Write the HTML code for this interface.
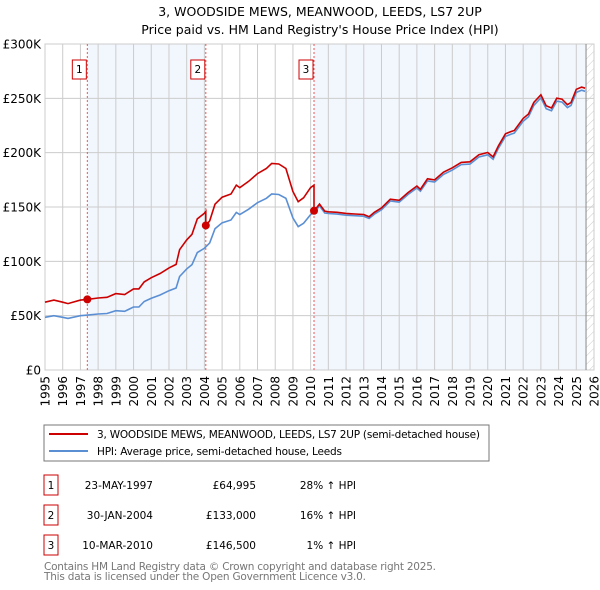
<!DOCTYPE html>
<html><head><meta charset="utf-8"><style>
body{margin:0;background:#fff;}
svg{display:block;font-family:"DejaVu Sans","Liberation Sans",sans-serif;}
</style></head><body>
<svg id="c" width="600" height="590">
<text x="320" y="16" text-anchor="middle" font-size="12.5">3, WOODSIDE MEWS, MEANWOOD, LEEDS, LS7 2UP</text>
<text x="320" y="34" text-anchor="middle" font-size="12.5">Price paid vs. HM Land Registry's House Price Index (HPI)</text>
<defs><pattern id="hatch" width="6" height="6" patternUnits="userSpaceOnUse" patternTransform="rotate(45)"><line x1="0" y1="0" x2="0" y2="6" stroke="#ccc" stroke-width="1"/></pattern></defs>
<g id="plot"></g>
<rect x="44" y="425" width="445" height="36" fill="#fff" stroke="#777"/>
<line x1="49" y1="434" x2="88" y2="434" stroke="#cc0000" stroke-width="2"/>
<text x="97" y="438" font-size="10.5" textLength="383">3, WOODSIDE MEWS, MEANWOOD, LEEDS, LS7 2UP (semi-detached house)</text>
<line x1="49" y1="451" x2="88" y2="451" stroke="#5b8fd4" stroke-width="2"/>
<text x="97" y="455" font-size="10.5" textLength="245">HPI: Average price, semi-detached house, Leeds</text>
<g id="tbl" font-size="10.5"></g>
<text x="44" y="570" font-size="10.5" fill="#777" textLength="392">Contains HM Land Registry data © Crown copyright and database right 2025.</text>
<text x="44" y="580" font-size="10.5" fill="#777" textLength="322">This data is licensed under the Open Government Licence v3.0.</text>
</svg>
<script>
const hpiYears=[1995,1995.5,1996,1996.3,1997,1997.4,1998,1998.5,1999,1999.5,2000,2000.3,2000.6,2001,2001.5,2002,2002.4,2002.6,2003,2003.3,2003.6,2004,2004.3,2004.6,2005,2005.5,2005.8,2006,2006.5,2007,2007.5,2007.8,2008.2,2008.6,2009,2009.3,2009.6,2010,2010.2,2010.5,2010.8,2011,2011.5,2012,2012.5,2013,2013.3,2013.6,2014,2014.5,2015,2015.5,2016,2016.2,2016.6,2017,2017.5,2018,2018.5,2019,2019.5,2020,2020.3,2020.6,2021,2021.3,2021.5,2022,2022.3,2022.6,2023,2023.3,2023.6,2023.9,2024.2,2024.5,2024.7,2025,2025.3,2025.5];
const hpiValues=[48.5,50,48.5,47.5,50,50.5,51.5,52,54.6,54,58,58,63,66,69,73,75.5,86,93,97,108,112,117,130,135.5,138,145,143,148,154,158,162,161.5,158,140,132,135,143,145,151,144.5,144,143.5,142.5,142,141.5,139.5,143.5,147.5,155.5,154.5,161.5,167.5,164.5,174,173,180,184,189,189.5,196,198,194,204,215,217,218,229,233,243.5,250.5,240.5,238.5,247.5,246.5,241.5,243.5,255.5,257.5,256.5];
const saleYears=[1997.39,2004.08,2010.19];
const salePrices=[64.995,133,146.5];
const saleDates=["23-MAY-1997","30-JAN-2004","10-MAR-2010"];
const salePriceLabels=["£64,995","£133,000","£146,500"];
const saleHpiLabels=["28% ↑ HPI","16% ↑ HPI","1% ↑ HPI"];
const yTicks=[0,50,100,150,200,250,300];
const yTickLabels=["£0","£50K","£100K","£150K","£200K","£250K","£300K"];
const xStart=1995,xEnd=2026;
const NS="http://www.w3.org/2000/svg";
const L=45,R=594,T=44,B=370;
const X=y=>L+(y-xStart)*(R-L)/(xEnd-xStart);
const Y=v=>B-v*(B-T)/300;
const g=document.getElementById('plot');
function mk(tag,attrs,parent){const e=document.createElementNS(NS,tag);for(const k in attrs)e.setAttribute(k,attrs[k]);(parent||g).appendChild(e);return e;}
function hpiAt(t){for(let i=1;i<hpiYears.length;i++){if(t<=hpiYears[i]){const f=(t-hpiYears[i-1])/(hpiYears[i]-hpiYears[i-1]);return hpiValues[i-1]+f*(hpiValues[i]-hpiValues[i-1]);}}return hpiValues[hpiValues.length-1];}
const bg=mk('rect',{x:L,y:T,width:R-L,height:B-T,fill:'#fff'});


const s1=mk('rect',{x:X(saleYears[0]),y:T,width:X(saleYears[1])-X(saleYears[0]),height:B-T,fill:'#f2f6fd'});


const s2=mk('rect',{x:X(saleYears[2]),y:T,width:X(2025.55)-X(saleYears[2]),height:B-T,fill:'#f2f6fd'});


const ht=mk('rect',{x:X(2025.55),y:T,width:R-X(2025.55),height:B-T,fill:'url(#hatch)'});


for(let yr=xStart;yr<=xEnd;yr++){
 const l=mk('line',{x1:X(yr),x2:X(yr),y1:T,y2:B,stroke:'#ccc','stroke-width':1});
 
 
 const t=mk('text',{x:0,y:0,'font-size':12,'text-anchor':'end',transform:`translate(${X(yr)+4.5},${B+6}) rotate(-90)`});
 t.textContent=yr;
 
 
}
yTicks.forEach((v,i)=>{
 const l=mk('line',{x1:L,x2:R,y1:Y(v),y2:Y(v),stroke:'#ccc','stroke-width':1});
 
 
 const t=mk('text',{x:L-4,y:Y(v)+4.5,'font-size':12,'text-anchor':'end'});
 t.textContent=yTickLabels[i];
 
 
});
const ax=mk('rect',{x:L,y:T,width:R-L,height:B-T,fill:'none',stroke:'#ccc'});


const endL=mk('line',{x1:X(2025.55),x2:X(2025.55),y1:T,y2:B,stroke:'#888'});


saleYears.forEach((sy,i)=>{
 const l=mk('line',{x1:X(sy),x2:X(sy),y1:T,y2:B,stroke:'#e55','stroke-width':1,'stroke-dasharray':'2,2'});
 
 
 const b=mk('rect',{x:X(sy)-15,y:60,width:14,height:19,fill:'#fff',stroke:'#c00'});
 
 
 const t=mk('text',{x:X(sy)-8,y:73,'font-size':10.5,'text-anchor':'middle'});
 t.textContent=i+1;
 
 
});
const hp=mk('path',{d:hpiYears.map((y,i)=>(i?'L':'M')+X(y).toFixed(1)+','+Y(hpiValues[i]).toFixed(1)).join(''),fill:'none',stroke:'#5b8fd4','stroke-width':1.6});


// property line: HPI scaled by the ratio at each sale
function ratio(k){return salePrices[k]/hpiAt(saleYears[k]);}
let d='';
hpiYears.forEach((y,i)=>{
 let k=0;for(let j=0;j<saleYears.length;j++)if(y>=saleYears[j])k=j;
 if(i>0){const prev=hpiYears[i-1];for(let j=0;j<saleYears.length;j++){if(saleYears[j]>prev&&saleYears[j]<=y){const kk=Math.max(0,j-1);d+='L'+X(saleYears[j]).toFixed(1)+','+Y(hpiAt(saleYears[j])*ratio(kk)).toFixed(1);d+='L'+X(saleYears[j]).toFixed(1)+','+Y(salePrices[j]).toFixed(1);}}}
 d+=(i?'L':'M')+X(y).toFixed(1)+','+Y(hpiValues[i]*ratio(k)).toFixed(1);
});
const pp=mk('path',{d:d,fill:'none',stroke:'#cc0000','stroke-width':1.6});


saleYears.forEach((sy,i)=>{
 const c=mk('circle',{cx:X(sy),cy:Y(salePrices[i]),r:4,fill:'#cc0000'});
 
 
});
const tb=document.getElementById('tbl');
const rowY=[485,515,545];
saleDates.forEach((dt,i)=>{
 const y=rowY[i];
 const b=mk('rect',{x:44,y:y-10,width:14,height:20,fill:'#fff',stroke:'#c00'},tb);
 
 
 const n=mk('text',{x:51,y:y+4,'text-anchor':'middle'},tb);n.textContent=i+1;
 
 
 const a=mk('text',{x:153,y:y+4,'text-anchor':'end'},tb);a.textContent=dt;
 
 
 const p=mk('text',{x:256,y:y+4,'text-anchor':'end'},tb);p.textContent=salePriceLabels[i];
 
 
 const h=mk('text',{x:356,y:y+4,'text-anchor':'end'},tb);h.textContent=saleHpiLabels[i];
 
 
});
</script>
</body></html>
